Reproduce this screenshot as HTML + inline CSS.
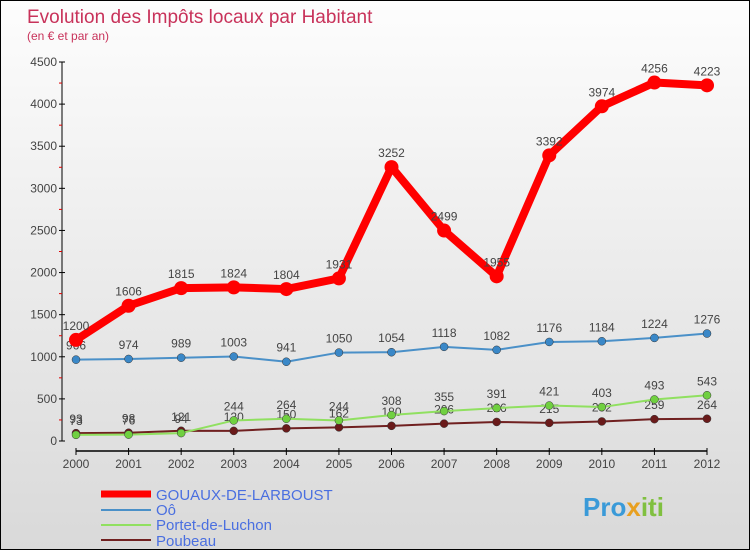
<!DOCTYPE html>
<html><head><meta charset="utf-8"><style>
body{margin:0}
#c{width:750px;height:550px;position:relative;border:1px solid #000;box-sizing:border-box;background:linear-gradient(#fdfdfd,#d9d9d9);font-family:"Liberation Sans",sans-serif;overflow:hidden}
</style></head><body>
<div id="c">
<svg id="s" width="750" height="550" style="position:absolute;left:0;top:0">
<text x="26" y="22" font-size="19" fill="#c8325a">Evolution des Impôts locaux par Habitant</text>
<text x="26" y="39" font-size="12" fill="#c8325a">(en € et par an)</text>
<g id="axes"></g><g id="series"></g>
<g font-size="15" fill="#4a6fe0">
<line x1="100" y1="493" x2="150" y2="493" stroke="#ff0000" stroke-width="7"/>
<text x="155" y="499">GOUAUX-DE-LARBOUST</text>
<line x1="100" y1="509" x2="150" y2="509" stroke="#4a90c8" stroke-width="2"/>
<text x="155" y="514">Oô</text>
<line x1="100" y1="524" x2="150" y2="524" stroke="#90e060" stroke-width="2"/>
<text x="155" y="529">Portet-de-Luchon</text>
<line x1="100" y1="539" x2="150" y2="539" stroke="#702020" stroke-width="2"/>
<text x="155" y="545">Poubeau</text>
</g>
<text x="582" y="515" font-size="26" font-weight="bold" fill="#3a9ad8">Pro<tspan fill="#e8a020">x</tspan><tspan fill="#80c040">iti</tspan></text>
</svg>
</div>
<script>
const years=[2000,2001,2002,2003,2004,2005,2006,2007,2008,2009,2010,2011,2012];
const gouaux=[1200,1606,1815,1824,1804,1931,3252,2499,1955,3392,3974,4256,4223];
const oo=[966,974,989,1003,941,1050,1054,1118,1082,1176,1184,1224,1276];
const portet=[73,76,94,244,264,244,308,355,391,421,403,493,543];
const poubeau=[93,98,121,120,150,162,180,206,226,215,232,259,264];
const yTicks=[0,500,1000,1500,2000,2500,3000,3500,4000,4500];
const NS="http://www.w3.org/2000/svg";
const X=i=>75+i*(706-75)/(years.length-1);
const Y=v=>440-v*(440-61)/4500;
function mk(t,a,p){const e=document.createElementNS(NS,t);for(const k in a)e.setAttribute(k,a[k]);p.appendChild(e);return e;}
const ax=document.getElementById('axes');
const yl=mk('line',{x1:61,y1:Y(4500),x2:61,y2:Y(0),stroke:'#000'},ax);


yTicks.forEach(v=>{
 mk('line',{x1:58,x2:64,y1:Y(v),y2:Y(v),stroke:'#000'},ax);
 if(v<4500) mk('line',{x1:58,x2:61,y1:Y(v+250),y2:Y(v+250),stroke:'#e00000'},ax);
 const t=mk('text',{x:56,y:Y(v)+4,'text-anchor':'end','font-size':12,fill:'#444'},ax);t.textContent=v;
 
 
});
const xl=mk('line',{x1:75,y1:450,x2:706,y2:450,stroke:'#000','stroke-width':1.5},ax);


years.forEach((yr,i)=>{
 mk('line',{x1:X(i),x2:X(i),y1:447,y2:454,stroke:'#000'},ax);
 const t=mk('text',{x:X(i),y:467,'text-anchor':'middle','font-size':12,fill:'#444'},ax);t.textContent=yr;
 
 
});
const sg=document.getElementById('series');
function series(data,name,color,w,r,dot){
 const g=mk('g',{},sg);
 
 
 const pl=mk('polyline',{points:data.map((v,i)=>X(i)+','+Y(v)).join(' '),fill:'none',stroke:color,'stroke-width':w,'stroke-linejoin':'round'},g);
 
 
 data.forEach((v,i)=>{
  const c=mk('circle',{cx:X(i),cy:Y(v),r:r,fill:dot,stroke:'#333','stroke-width':r>5?0:0.5},g);
  
  
  const t=mk('text',{x:X(i),y:Y(v)-10,'text-anchor':'middle','font-size':12,fill:'#444'},g);t.textContent=v;
  
  
 });
}
series(poubeau,'poubeau','#702020',2,4,'#6a1a1a');
series(portet,'portet','#90e060',2,4,'#70d040');
series(oo,'oo','#4a90c8',2,4,'#3a88c8');
series(gouaux,'gouaux','#ff0000',8,7,'#ff0000');
</script>
</body></html>
